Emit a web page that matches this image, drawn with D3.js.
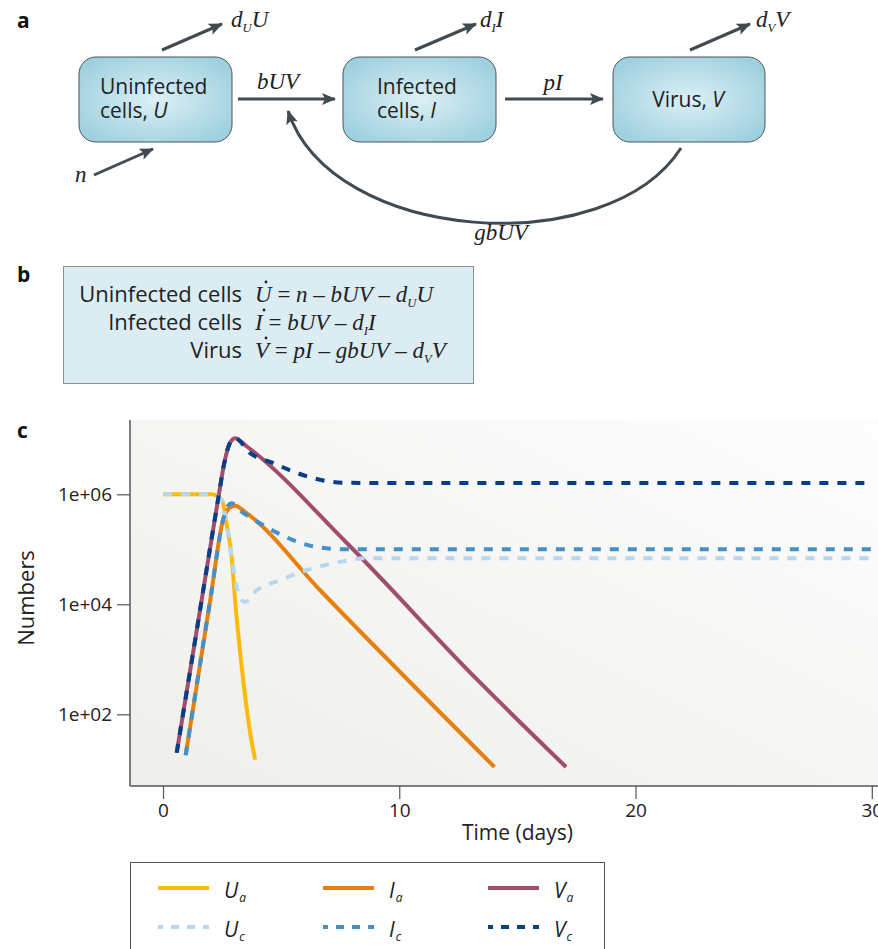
<!DOCTYPE html>
<html>
<head>
<meta charset="utf-8">
<script src="https://cdn.jsdelivr.net/npm/d3@7"></script>
<style>
  body { margin: 0; background: #fff; }
  svg { display: block; }
</style>
</head>
<body>
<div id="chart"></div>
<script>
// Values: [time (days), number]
const uaPoints = [[0, 1.0e6], [2.06, 1.0e6], [2.49, 7.9e5], [2.70, 2.75e5], [2.91, 6.9e4], [3.05, 1.2e4], [3.33, 7.4e2], [3.69, 4.6e1], [3.90, 1.5e1]]
const iaPoints = [[0.96, 1.8e1], [2.0, 1.2e4], [2.55, 3.5e5], [2.80, 5.6e5], [3.05, 6.2e5], [3.55, 4.5e5], [6.65, 1.8e4], [14.03, 1.1e1]]
const vaPoints = [[0.58, 2.0e1], [1.5, 5.2e3], [2.33, 8.0e5], [2.60, 3.8e6], [2.80, 8.0e6], [3.05, 1.05e7], [3.55, 7.4e6], [7.78, 1.3e5], [13.29, 4.3e2], [17.06, 1.1e1]]
const ucPoints = [[0, 1.0e6], [2.06, 1.0e6], [2.49, 7.9e5], [2.70, 2.75e5], [2.91, 7.0e4], [3.12, 2.0e4], [3.26, 1.3e4], [3.47, 1.1e4], [3.97, 1.8e4], [4.96, 2.75e4], [6.09, 4.2e4], [7.5, 5.9e4], [8.63, 6.9e4], [11, 6.9e4], [30, 6.9e4]]
const icPoints = [[0.96, 1.8e1], [2.0, 1.2e4], [2.55, 3.5e5], [2.75, 6.2e5], [2.91, 6.9e5], [3.26, 5.1e5], [4.25, 2.75e5], [5.38, 1.55e5], [6.51, 1.1e5], [7.78, 1.0e5], [30, 1.0e5]]
const vcPoints = [[0.58, 2.0e1], [1.5, 5.2e3], [2.33, 8.0e5], [2.60, 3.8e6], [2.80, 8.0e6], [3.05, 1.05e7], [3.69, 5.6e6], [4.67, 3.7e6], [5.5, 2.6e6], [6.93, 1.74e6], [7.78, 1.62e6], [10, 1.6e6], [30, 1.6e6]]

const xTicks = [0, 10, 20, 30]
const yTicks = [1e2, 1e4, 1e6]
const yTickLabels = ['1e+02', '1e+04', '1e+06']
const seriesNames = ['Ua', 'Ia', 'Va', 'Uc', 'Ic', 'Vc']
const seriesLetters = ['U', 'I', 'V', 'U', 'I', 'V']
const seriesSubs = ['a', 'a', 'a', 'c', 'c', 'c']
const seriesPoints = [uaPoints, iaPoints, vaPoints, ucPoints, icPoints, vcPoints]

// Styles
const seriesColors = { Ua: '#fbbb08', Ia: '#e8800e', Va: '#a04e6c', Uc: '#b6d7ec', Ic: '#4690c8', Vc: '#063f85' }
const dashedSeries = ['Uc', 'Ic', 'Vc']
const sans = "'Open Sans', 'Noto Sans', sans-serif"
const serif = "'Liberation Serif', 'DejaVu Serif', serif"
const ink = '#222'
const arrowInk = '#3f4b50'

const width = 878
const height = 949
const plot = { left: 130, top: 420, bottom: 786 }

// Create svg element
const svg = d3.select('#chart')
  .append('svg')
    .attr('width', width)
    .attr('height', height)

const defs = svg.append('defs')

const boxGrad = defs.append('radialGradient')
  .attr('id', 'boxGrad')
  .attr('cx', '50%').attr('cy', '50%').attr('r', '60%')
boxGrad.append('stop').attr('offset', '0%').attr('stop-color', '#dcf0f6')
boxGrad.append('stop').attr('offset', '100%').attr('stop-color', '#9fd0df')

const plotGrad = defs.append('linearGradient')
  .attr('id', 'plotGrad')
  .attr('x1', '0').attr('y1', '1').attr('x2', '1').attr('y2', '0')
plotGrad.append('stop').attr('offset', '0%').attr('stop-color', '#eeeeeb')
plotGrad.append('stop').attr('offset', '100%').attr('stop-color', '#fdfdfd')

defs.append('marker')
  .attr('id', 'arrowHead')
  .attr('viewBox', '0 0 14 12')
  .attr('refX', 13)
  .attr('refY', 6)
  .attr('markerUnits', 'userSpaceOnUse')
  .attr('markerWidth', 14)
  .attr('markerHeight', 12)
  .attr('orient', 'auto')
  .append('path')
    .attr('d', 'M0,0 L14,6 L0,12 L3,6 Z')
    .attr('fill', arrowInk)

// Panel letters
const panelLetter = (letter, x, y) => {
  svg.append('text')
    .attr('x', x).attr('y', y)
    .attr('font-family', sans)
    .attr('font-weight', 700)
    .attr('font-size', 21)
    .attr('fill', '#111')
    .text(letter)
}
panelLetter('a', 17, 28)
panelLetter('b', 17, 282)
panelLetter('c', 17, 438)

// ---------- Panel a : compartment diagram ----------
const drawBox = (x, y, w, h) => {
  svg.append('rect')
    .attr('x', x).attr('y', y)
    .attr('width', w).attr('height', h)
    .attr('rx', 17)
    .attr('fill', 'url(#boxGrad)')
    .attr('stroke', '#4a565a')
    .attr('stroke-width', 1)
}

const boxText = (x, y, parts, anchor, size) => {
  const t = svg.append('text')
    .attr('x', x).attr('y', y)
    .attr('font-family', sans)
    .attr('font-size', size || 21)
    .attr('fill', ink)
    .attr('text-anchor', anchor || 'start')
  parts.forEach(p => {
    t.append('tspan')
      .attr('font-style', p.italic ? 'italic' : 'normal')
      .text(p.text)
  })
}

drawBox(79, 57, 153, 85)
drawBox(343, 57, 153, 85)
drawBox(613, 57, 152, 85)
boxText(100, 94, [{ text: 'Uninfected' }])
boxText(100, 118, [{ text: 'cells, ' }, { text: 'U', italic: true }])
boxText(377, 94, [{ text: 'Infected' }])
boxText(377, 118, [{ text: 'cells, ' }, { text: 'I', italic: true }])
boxText(688, 107, [{ text: 'Virus, ' }, { text: 'V', italic: true }], 'middle')

const arrow = (d) => {
  svg.append('path')
    .attr('d', d)
    .attr('fill', 'none')
    .attr('stroke', arrowInk)
    .attr('stroke-width', 3)
    .attr('marker-end', 'url(#arrowHead)')
}

// math label with optional subscript: parts [{text, sub, upright}]
const mathText = (x, y, parts, size, anchor) => {
  const fs = size || 23
  const t = svg.append('text')
    .attr('x', x).attr('y', y)
    .attr('font-family', serif)
    .attr('font-style', 'italic')
    .attr('font-size', fs)
    .attr('fill', ink)
    .attr('text-anchor', anchor || 'start')
  let lowered = false
  parts.forEach(p => {
    const span = t.append('tspan')
    if (p.sub) {
      span.attr('font-size', fs * 0.55).attr('dy', 5).text(p.text)
      lowered = true
    } else {
      if (lowered) span.attr('dy', -5)
      lowered = false
      span.attr('font-style', p.upright ? 'normal' : 'italic').text(p.text)
    }
  })
  return t
}

arrow('M238,99 L335,99')
arrow('M505,99 L603,99')
arrow('M162,50 L222,24')
arrow('M415,50 L476,24')
arrow('M690,50 L750,24')
arrow('M94,175 L153,149')
arrow('M681,148 C608,262 332,244 288,111')

mathText(278, 89, [{ text: 'bUV' }], 23, 'middle')
mathText(553, 90, [{ text: 'pI' }], 23, 'middle')
mathText(231, 27, [{ text: 'd' }, { text: 'U', sub: true }, { text: 'U' }])
mathText(480, 27, [{ text: 'd' }, { text: 'I', sub: true }, { text: 'I' }])
mathText(756, 27, [{ text: 'd' }, { text: 'V', sub: true }, { text: 'V' }])
mathText(75, 182, [{ text: 'n' }])
mathText(501, 240, [{ text: 'gbUV' }], 23, 'middle')

// ---------- Panel b : equations ----------
svg.append('rect')
  .attr('x', 63.5).attr('y', 266.5)
  .attr('width', 410).attr('height', 117)
  .attr('fill', '#dcecf3')
  .attr('stroke', '#8a8f91')
  .attr('stroke-width', 1)

const minus = { text: ' – ', upright: true }
const eqRows = [
  { name: 'Uninfected cells', lhs: 'U', rhs: [{ text: ' = ', upright: true }, { text: 'n' }, minus, { text: 'bUV' }, minus, { text: 'd' }, { text: 'U', sub: true }, { text: 'U' }] },
  { name: 'Infected cells', lhs: 'I', rhs: [{ text: '  = ', upright: true }, { text: 'bUV' }, minus, { text: 'd' }, { text: 'I', sub: true }, { text: 'I' }] },
  { name: 'Virus', lhs: 'V', rhs: [{ text: ' = ', upright: true }, { text: 'pI' }, minus, { text: 'gbUV' }, minus, { text: 'd' }, { text: 'V', sub: true }, { text: 'V' }] }
]
const eqBaselines = [302, 330, 358]

eqRows.forEach((row, i) => {
  const y = eqBaselines[i]
  boxText(242, y, [{ text: row.name }], 'end', 22)
  mathText(255, y, [{ text: row.lhs }].concat(row.rhs), 23)
  svg.append('circle')
    .attr('cx', row.lhs === 'I' ? 264 : 266)
    .attr('cy', y - 20)
    .attr('r', 1.4)
    .attr('fill', ink)
})

// ---------- Panel c : simulation ----------
const x = d3.scaleLinear().domain([0, 30]).range([163, 871.8])
const y = d3.scaleLog().domain([1e2, 1e6]).range([714.3, 494.3])

svg.append('rect')
  .attr('x', plot.left).attr('y', plot.top)
  .attr('width', width - plot.left).attr('height', plot.bottom - plot.top)
  .attr('fill', 'url(#plotGrad)')

// Axes
const xAxis = svg.append('g')
  .attr('transform', `translate(0,${plot.bottom})`)
  .call(d3.axisBottom(x).tickValues(xTicks).tickSize(13).tickPadding(5).tickSizeOuter(0))
const yAxis = svg.append('g')
  .attr('transform', `translate(${plot.left},0)`)
  .call(d3.axisLeft(y).tickValues(yTicks).tickFormat((d, i) => yTickLabels[i]).tickSize(13).tickPadding(5).tickSizeOuter(0))

;[xAxis, yAxis].forEach(ax => {
  ax.select('.domain').remove()
  ax.selectAll('line').attr('stroke', '#555').attr('stroke-width', 1.2)
  ax.selectAll('text')
    .attr('font-family', sans)
    .attr('font-size', 19)
    .attr('fill', ink)
})

svg.append('line')
  .attr('x1', plot.left).attr('x2', width)
  .attr('y1', plot.bottom).attr('y2', plot.bottom)
  .attr('stroke', '#555').attr('stroke-width', 1.5)
svg.append('line')
  .attr('x1', plot.left).attr('x2', plot.left)
  .attr('y1', plot.top).attr('y2', plot.bottom)
  .attr('stroke', '#555').attr('stroke-width', 1.5)

svg.append('text')
  .attr('x', x(15)).attr('y', 840)
  .attr('text-anchor', 'middle')
  .attr('font-family', sans)
  .attr('font-size', 21)
  .attr('fill', ink)
  .text('Time (days)')

svg.append('text')
  .attr('transform', 'translate(34,598) rotate(-90)')
  .attr('text-anchor', 'middle')
  .attr('font-family', sans)
  .attr('font-size', 22)
  .attr('fill', ink)
  .text('Numbers')

// Lines
const line = d3.line()
  .x(d => x(d[0]))
  .y(d => y(d[1]))
  .curve(d3.curveMonotoneX)

seriesNames.forEach((name, i) => {
  svg.append('path')
    .datum(seriesPoints[i])
    .attr('d', line)
    .attr('fill', 'none')
    .attr('stroke', seriesColors[name])
    .attr('stroke-width', 4)
    .attr('stroke-linejoin', 'round')
    .attr('stroke-dasharray', dashedSeries.includes(name) ? '9,9' : null)
})

// Legend
svg.append('rect')
  .attr('x', 130.5).attr('y', 862.5)
  .attr('width', 474).attr('height', 120)
  .attr('fill', '#fff')
  .attr('stroke', '#555')
  .attr('stroke-width', 1)

const legendCols = [158, 323, 488]
const legendRows = [888, 927]

seriesNames.forEach((name, i) => {
  const lx = legendCols[i % 3]
  const ly = legendRows[Math.floor(i / 3)]
  svg.append('line')
    .attr('x1', lx).attr('x2', lx + 51)
    .attr('y1', ly).attr('y2', ly)
    .attr('stroke', seriesColors[name])
    .attr('stroke-width', 4)
    .attr('stroke-dasharray', dashedSeries.includes(name) ? '5,8,8,8,8,8,8,8' : null)
  const t = svg.append('text')
    .attr('x', lx + 66).attr('y', ly + 10)
    .attr('font-family', sans)
    .attr('font-style', 'italic')
    .attr('font-size', 21)
    .attr('fill', ink)
  t.append('tspan').text(seriesLetters[i])
  t.append('tspan').attr('font-size', 12).attr('dy', 4).attr('dx', 1).text(seriesSubs[i])
})
</script>
</body>
</html>
